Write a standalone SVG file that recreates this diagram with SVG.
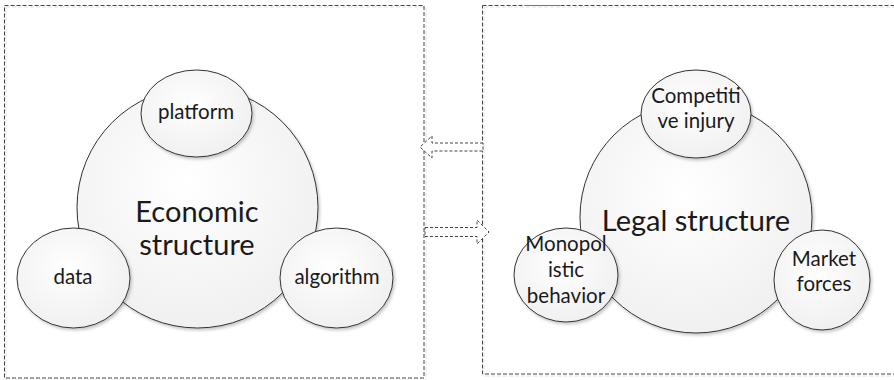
<svg xmlns="http://www.w3.org/2000/svg" width="894" height="380" viewBox="0 0 894 380">
<defs>
<radialGradient id="g" cx="0.45" cy="0.4" r="0.65">
<stop offset="0" stop-color="#ffffff"/>
<stop offset="1" stop-color="#efefef"/>
</radialGradient>
<filter id="sh" x="-10%" y="-10%" width="125%" height="125%">
<feDropShadow dx="1.5" dy="2" stdDeviation="1.5" flood-color="#000" flood-opacity="0.22"/>
</filter>
</defs>
<style>
.box{fill:none;stroke:#444;stroke-width:1;stroke-dasharray:4 2}
.boxsh{fill:none;stroke:#e2e2e2;stroke-width:1;stroke-dasharray:4 2}
.c{fill:url(#g);stroke:#333;stroke-width:1;filter:url(#sh)}
.arr{fill:#fff;stroke:#444;stroke-width:1;stroke-dasharray:3 2}
.t{font-family:Lato,"Liberation Sans",sans-serif;fill:#1a1a1a;text-anchor:middle}
.s{font-size:20.5px}
.b{font-size:29px}
</style>
<g id="frames">
<rect class="boxsh" x="6" y="7" width="420" height="373"/>
<rect class="box" x="4.5" y="5.5" width="419.5" height="372.5"/>
<rect class="boxsh" x="484" y="7" width="412" height="369"/>
<rect class="box" x="482.5" y="5.5" width="413" height="368.5"/>
<line x1="525" y1="5.5" x2="560" y2="5.5" stroke="#777" stroke-width="1.2"/>
</g>
<g id="connectors">
<path class="arr" d="M483,143 L432,143 L432,136 L420,147 L432,158 L432,151 L483,151 Z"/>
<path class="arr" d="M425,227.5 L477,227.5 L477,220 L489,232 L477,244 L477,236.5 L425,236.5 Z"/>
</g>
<g id="economic">
<circle class="c" cx="197.5" cy="207.5" r="120.5"/>
<text class="t b" x="197" y="222">Economic</text>
<text class="t b" x="197" y="255">structure</text>
</g>
<g id="platform">
<ellipse class="c" cx="196.5" cy="113.5" rx="55.5" ry="43.5"/>
<text class="t s" x="196" y="119">platform</text>
</g>
<g id="data">
<ellipse class="c" cx="73.5" cy="278" rx="56.5" ry="50"/>
<text class="t s" x="73" y="284">data</text>
</g>
<g id="algorithm">
<ellipse class="c" cx="336.5" cy="278" rx="56.5" ry="50"/>
<text class="t s" x="337" y="284">algorithm</text>
</g>
<g id="legal">
<circle class="c" cx="696" cy="217" r="116"/>
<text class="t b" x="696" y="231">Legal structure</text>
</g>
<g id="competitive">
<ellipse class="c" cx="696" cy="114" rx="55" ry="44"/>
<text class="t s" x="696" y="103">Competiti</text>
<text class="t s" x="696" y="128">ve injury</text>
</g>
<g id="monopolistic">
<ellipse class="c" cx="566" cy="275" rx="52" ry="47"/>
<text class="t s" x="566" y="251">Monopol</text>
<text class="t s" x="566" y="277">istic</text>
<text class="t s" x="566" y="303">behavior</text>
</g>
<g id="market">
<ellipse class="c" cx="822" cy="280" rx="48" ry="50"/>
<text class="t s" x="824" y="266">Market</text>
<text class="t s" x="824" y="291">forces</text>
</g>
</svg>
